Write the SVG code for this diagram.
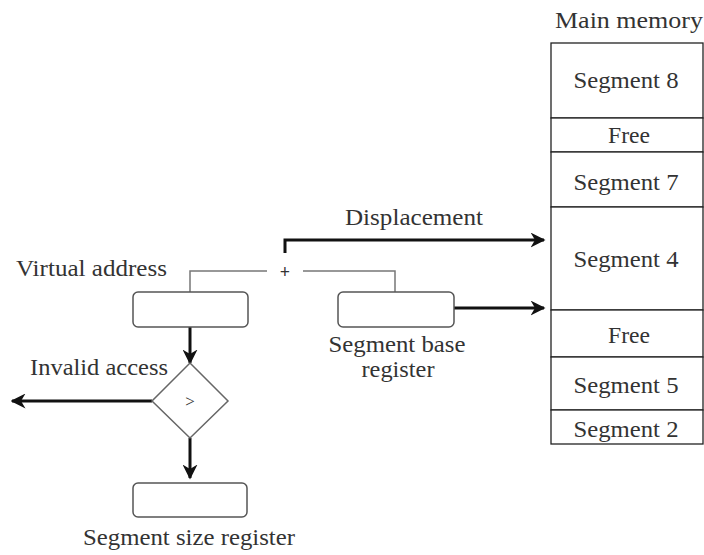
<svg xmlns="http://www.w3.org/2000/svg" width="704" height="555" viewBox="0 0 704 555">
<style>
text{font-family:"Liberation Serif","DejaVu Serif",serif;font-size:23px;fill:#333}
.c{text-anchor:middle}
.box{fill:#fff;stroke:#555;stroke-width:1.5}
.thin{fill:none;stroke:#777;stroke-width:1.5}
.thick{fill:none;stroke:#111;stroke-width:3}
.mem{fill:#fff;stroke:#222;stroke-width:1.3}
</style>
<defs>
<marker id="ah" viewBox="0 0 10 10" refX="9" refY="5" markerWidth="5" markerHeight="5" markerUnits="strokeWidth" orient="auto">
<path d="M0,0 L10,5 L0,10 L3,5 Z" fill="#111"/>
</marker>
</defs>
<rect width="704" height="555" fill="#fff"/>
<g id="connectors">
<path class="thin" d="M190,292 V271 H267"/>
<path class="thin" d="M303,271 H395 V292"/>
<path class="thick" d="M285,253 V240 H544" marker-end="url(#ah)"/>
<path class="thick" d="M454,308 H544" marker-end="url(#ah)"/>
<path class="thick" d="M190,327 V363" marker-end="url(#ah)"/>
<path class="thick" d="M152,401 H12" marker-end="url(#ah)"/>
<path class="thick" d="M190,438 V478" marker-end="url(#ah)"/>
</g>
<g id="plus"><text class="c" x="285" y="278" style="font-size:18px;font-weight:bold">+</text></g>
<g id="displacement-label"><text class="c" x="414" y="225" textLength="138" lengthAdjust="spacingAndGlyphs">Displacement</text></g>
<g id="virtual-address">
<rect class="box" x="133" y="292" width="115" height="35" rx="5"/>
<text x="16" y="276" textLength="151" lengthAdjust="spacingAndGlyphs">Virtual address</text>
</g>
<g id="segment-base-register">
<rect class="box" x="338" y="292" width="116" height="35" rx="5"/>
<text class="c" x="397" y="352" textLength="137" lengthAdjust="spacingAndGlyphs">Segment base</text>
<text class="c" x="398" y="377" textLength="73" lengthAdjust="spacingAndGlyphs">register</text>
</g>
<g id="comparator">
<path class="box" d="M190,363 L228,401 L190,438 L152,401 Z" style="stroke:#666"/>
<text class="c" x="190" y="407" style="font-size:17px">&gt;</text>
<text x="30" y="375" textLength="138" lengthAdjust="spacingAndGlyphs">Invalid access</text>
</g>
<g id="segment-size-register">
<rect class="box" x="133" y="483" width="114" height="34" rx="5"/>
<text x="83" y="545" textLength="212" lengthAdjust="spacingAndGlyphs">Segment size register</text>
</g>
<g id="main-memory">
<text class="c" x="629" y="28" textLength="148" lengthAdjust="spacingAndGlyphs">Main memory</text>
<rect class="mem" x="551" y="43" width="152" height="75"/>
<rect class="mem" x="551" y="118" width="152" height="34"/>
<rect class="mem" x="551" y="152" width="152" height="55"/>
<rect class="mem" x="551" y="207" width="152" height="103"/>
<rect class="mem" x="551" y="310" width="152" height="47"/>
<rect class="mem" x="551" y="357" width="152" height="53"/>
<rect class="mem" x="551" y="410" width="152" height="34"/>
<text class="c" x="626" y="88" textLength="105" lengthAdjust="spacingAndGlyphs">Segment 8</text>
<text class="c" x="629" y="143" textLength="42" lengthAdjust="spacingAndGlyphs">Free</text>
<text class="c" x="626" y="190" textLength="105" lengthAdjust="spacingAndGlyphs">Segment 7</text>
<text class="c" x="626" y="267" textLength="105" lengthAdjust="spacingAndGlyphs">Segment 4</text>
<text class="c" x="629" y="343" textLength="42" lengthAdjust="spacingAndGlyphs">Free</text>
<text class="c" x="626" y="393" textLength="105" lengthAdjust="spacingAndGlyphs">Segment 5</text>
<text class="c" x="626" y="437" textLength="105" lengthAdjust="spacingAndGlyphs">Segment 2</text>
</g>
</svg>
